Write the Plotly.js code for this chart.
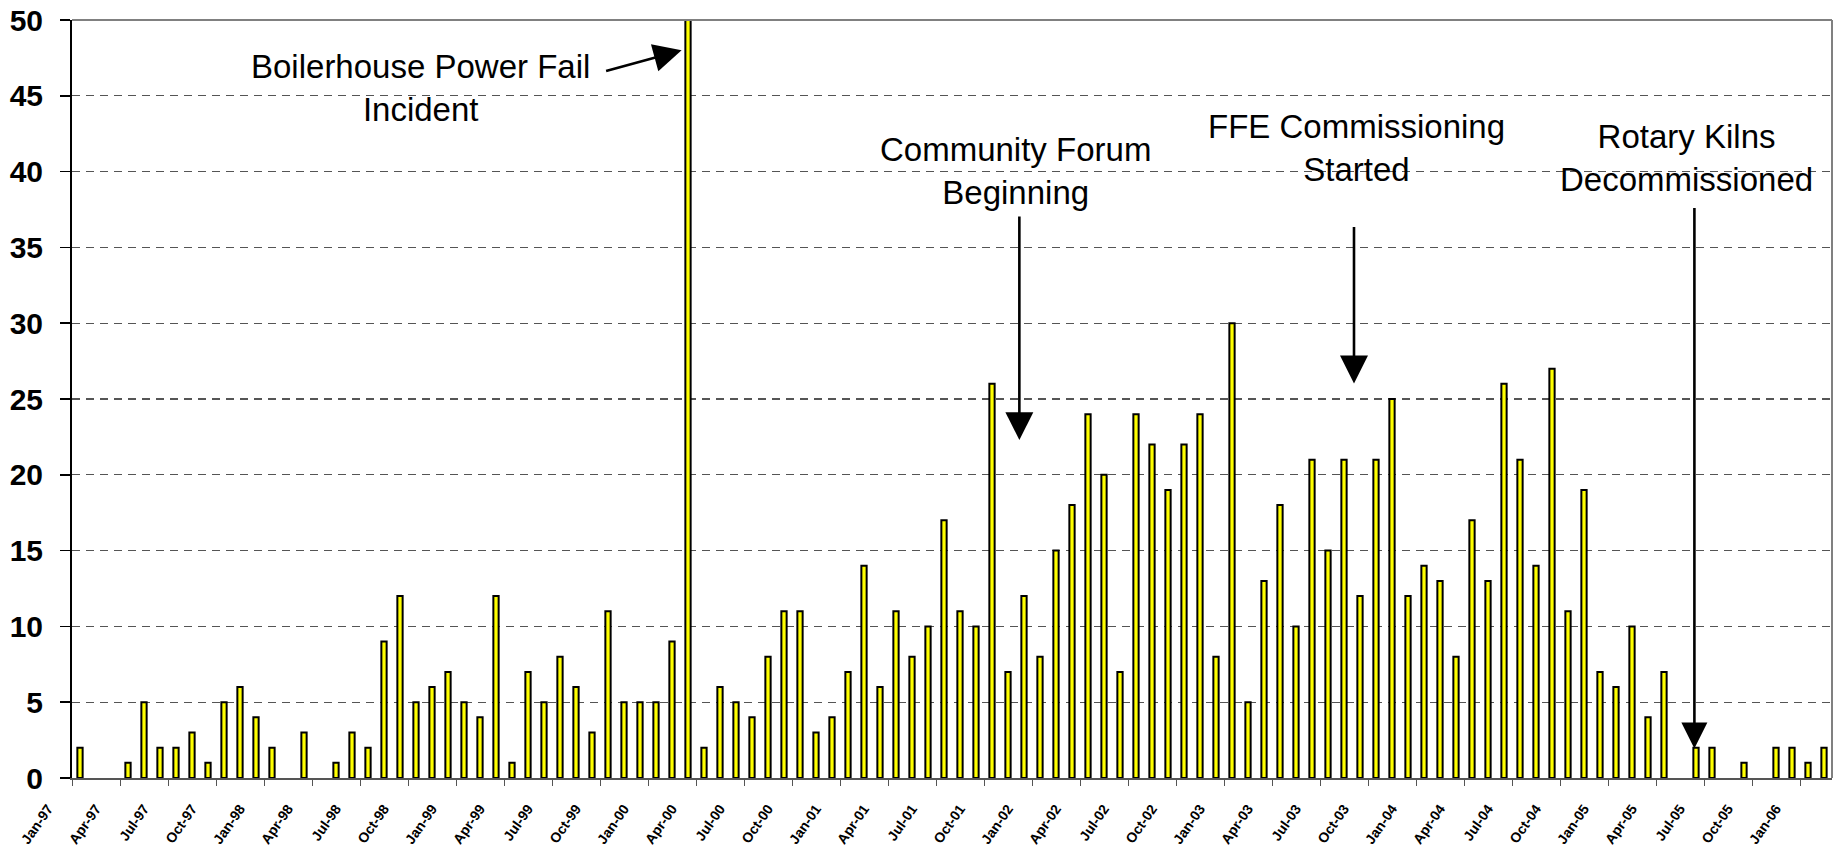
<!DOCTYPE html>
<html>
<head>
<meta charset="utf-8">
<script src="https://cdn.plot.ly/plotly-3.0.1.min.js"></script>
<style>
  html, body { margin: 0; padding: 0; background: #ffffff; }
  #chart { width: 1833px; height: 858px; }
</style>
</head>
<body>
<div id="chart"></div>
<script>
// Month abbreviations and years used for the monthly categories (Jan-97 .. Feb-06)
var monthNames = ["Jan","Feb","Mar","Apr","May","Jun","Jul","Aug","Sep","Oct","Nov","Dec"];
var startYear = 1997;
var monthCount = 110;

// Monthly counts
var counts = [
  2, 0, 0, 1, 5, 2, 2, 3, 1, 5, 6, 4,
  2, 0, 3, 0, 1, 3, 2, 9, 12, 5, 6, 7,
  5, 4, 12, 1, 7, 5, 8, 6, 3, 11, 5, 5,
  5, 9, 50, 2, 6, 5, 4, 8, 11, 11, 3, 4,
  7, 14, 6, 11, 8, 10, 17, 11, 10, 26, 7, 12,
  8, 15, 18, 24, 20, 7, 24, 22, 19, 22, 24, 8,
  30, 5, 13, 18, 10, 21, 15, 21, 12, 21, 25, 12,
  14, 13, 8, 17, 13, 26, 21, 14, 27, 11, 19, 7,
  6, 10, 4, 7, 0, 2, 2, 0, 1, 0, 2, 2,
  1, 2
];

// Category labels
var categories = [];
for (var i = 0; i < monthCount; i++) {
  var y = startYear + Math.floor(i / 12);
  var yy = String(y % 100).padStart(2, "0");
  categories.push(monthNames[i % 12] + "-" + yy);
}

// Y axis ticks
var yTickVals = [0, 5, 10, 15, 20, 25, 30, 35, 40, 45, 50];

// Event annotations
var eventTexts = [
  "Boilerhouse Power Fail<br>Incident",
  "Community Forum<br>Beginning",
  "FFE Commissioning<br>Started",
  "Rotary Kilns<br>Decommissioned"
];

var FONT = "Liberation Sans, Arial, Helvetica, sans-serif";

var trace = {
  type: "bar",
  x: categories,
  // months with no count draw no bar
  y: counts.map(function (v) { return v === 0 ? null : v; }),
  width: 0.33,
  marker: { color: "#FFFF00", line: { color: "#000000", width: 2 } },
  cliponaxis: false,
  hoverinfo: "x+y"
};

var textFont = { family: FONT, size: 33, color: "#000000" };

var annotations = [
  // texts
  { x: 21.3, y: 45.5, xref: "x", yref: "y", text: eventTexts[0], showarrow: false, xanchor: "center", yanchor: "middle", font: textFont },
  { x: 58.47, y: 40.07, xref: "x", yref: "y", text: eventTexts[1], showarrow: false, xanchor: "center", yanchor: "middle", font: textFont },
  { x: 79.79, y: 41.54, xref: "x", yref: "y", text: eventTexts[2], showarrow: false, xanchor: "center", yanchor: "middle", font: textFont },
  { x: 100.375, y: 40.88, xref: "x", yref: "y", text: eventTexts[3], showarrow: false, xanchor: "center", yanchor: "middle", font: textFont },
  // arrows
  { x: 37.6, y: 48.0, xref: "x", yref: "y", text: "", showarrow: true, ax: -77, ay: 21, arrowhead: 2, arrowwidth: 2.6, arrowsize: 2.15, arrowcolor: "#000000" },
  { x: 58.71, y: 22.29, xref: "x", yref: "y", text: "", showarrow: true, ax: 0, ay: -225, arrowhead: 2, arrowwidth: 2.6, arrowsize: 2.15, arrowcolor: "#000000" },
  { x: 79.625, y: 26.03, xref: "x", yref: "y", text: "", showarrow: true, ax: 0, ay: -158, arrowhead: 2, arrowwidth: 2.6, arrowsize: 2.15, arrowcolor: "#000000" },
  { x: 100.9, y: 1.94, xref: "x", yref: "y", text: "", showarrow: true, ax: 0, ay: -542, arrowhead: 2, arrowwidth: 2.6, arrowsize: 2.0, arrowcolor: "#000000" }
];

var layout = {
  width: 1833,
  height: 858,
  margin: { l: 72, r: 1, t: 20, b: 80 },
  paper_bgcolor: "#ffffff",
  plot_bgcolor: "#ffffff",
  showlegend: false,
  font: { family: FONT, color: "#000000" },
  xaxis: {
    type: "category",
    categoryorder: "array",
    categoryarray: categories,
    tickmode: "linear",
    tick0: 0,
    dtick: 3,
    tickson: "boundaries",
    ticks: "outside",
    ticklen: 6,
    tickwidth: 1,
    tickcolor: "#555555",
    showline: true,
    linecolor: "#555555",
    linewidth: 2,
    showgrid: false,
    zeroline: false,
    tickangle: -55,
    ticklabelshift: -32,
    ticklabelstandoff: 15,
    tickfont: { family: FONT, size: 14, color: "#000000", weight: "bold" },
    range: [-0.5, monthCount - 0.5],
    fixedrange: true
  },
  yaxis: {
    range: [0, 50],
    tickmode: "array",
    tickvals: yTickVals,
    ticktext: yTickVals.map(String),
    ticks: "outside",
    ticklen: 10,
    tickwidth: 1.5,
    tickcolor: "#000000",
    showline: true,
    linecolor: "#000000",
    linewidth: 2,
    showgrid: true,
    gridcolor: "#555555",
    gridwidth: 1.3,
    griddash: "8px,6px",
    zeroline: false,
    ticklabelstandoff: 11,
    tickfont: { family: FONT, size: 30, color: "#000000", weight: "bold" },
    fixedrange: true
  },
  shapes: [
    { type: "line", xref: "paper", yref: "paper", x0: 0, x1: 1, y0: 1, y1: 1, line: { color: "#808080", width: 2 } },
    { type: "line", xref: "paper", yref: "paper", x0: 1, x1: 1, y0: 0, y1: 1, line: { color: "#808080", width: 2 } }
  ],
  annotations: annotations
};

Plotly.newPlot("chart", [trace], layout, { displayModeBar: false, staticPlot: true });
</script>
</body>
</html>
